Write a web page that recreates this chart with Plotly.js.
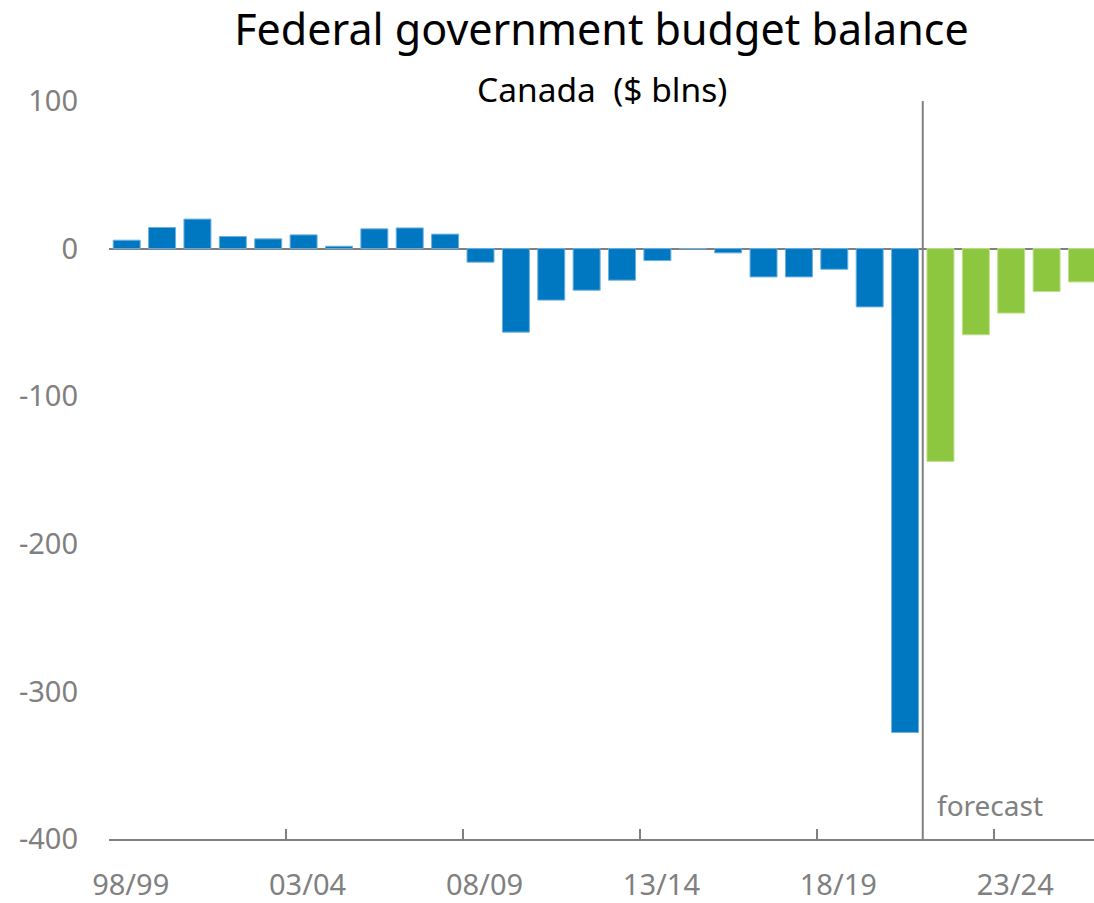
<!DOCTYPE html>
<html>
<head>
<meta charset="utf-8">
<script src="https://cdn.plot.ly/plotly-3.0.1.min.js"></script>
<style>
  html, body { margin: 0; padding: 0; background: #ffffff; }
  #chart { width: 1094px; height: 903px; }
</style>
</head>
<body>
<div id="chart"></div>
<script>
// Fiscal years (actual)
const actualYears = ["98/99","99/00","00/01","01/02","02/03","03/04","04/05","05/06","06/07","07/08",
  "08/09","09/10","10/11","11/12","12/13","13/14","14/15","15/16","16/17","17/18","18/19","19/20","20/21"];
// Budget balance, $ blns (actual)
const actualValues = [5.7, 14.3, 20.0, 8.2, 6.6, 9.3, 1.6, 13.4, 14.0, 9.8,
  -9.2, -56.6, -34.9, -28.2, -21.4, -8.1, 0, -2.9, -19.2, -19.2, -14.0, -39.5, -327.8];
// Fiscal years (forecast)
const forecastYears = ["21/22","22/23","23/24","24/25","25/26"];
// Budget balance, $ blns (forecast)
const forecastValues = [-144.2, -58.4, -43.7, -29.1, -22.6];

const allYears = actualYears.concat(forecastYears);
const yTickVals = [100, 0, -100, -200, -300, -400];
const yTickText = ["100", "0", "-100", "-200", "-300", "-400"];

const FONT = "'Noto Sans', 'Open Sans', 'Liberation Sans', sans-serif";
const GREY = "#808080";

const traces = [
  {
    type: "bar",
    name: "Actual",
    x: actualYears,
    y: actualValues,
    marker: { color: "#0077c1", line: { color: "#6fb0e0", width: 1 } },
    hoverinfo: "x+y"
  },
  {
    type: "bar",
    name: "Forecast",
    x: forecastYears,
    y: forecastValues,
    marker: { color: "#8dc63f", line: { color: "#bfe08f", width: 1 } },
    hoverinfo: "x+y"
  }
];

const forecastStart = allYears.indexOf(forecastYears[0]) - 0.5;

const layout = {
  width: 1094,
  height: 903,
  margin: { l: 109, r: 0, t: 101, b: 64 },
  paper_bgcolor: "#ffffff",
  plot_bgcolor: "#ffffff",
  showlegend: false,
  barmode: "overlay",
  bargap: 0.237,
  font: { family: FONT, color: GREY },
  title: {
    text: "Federal government budget balance",
    font: { family: FONT, size: 43, color: "#000000" },
    x: 0.5,
    xref: "paper",
    xanchor: "center",
    y: 1 - 15 / 903,
    yref: "container",
    yanchor: "top"
  },
  xaxis: {
    type: "category",
    categoryorder: "array",
    categoryarray: allYears,
    range: [-0.5, allYears.length - 0.66],
    tickmode: "linear",
    tick0: 0,
    dtick: 5,
    tickson: "boundaries",
    tickangle: 0,
    ticks: "inside",
    ticklen: 10,
    tickwidth: 2,
    tickcolor: GREY,
    showline: true,
    linecolor: GREY,
    linewidth: 2,
    showgrid: false,
    zeroline: false,
    ticklabelstandoff: 19,
    ticklabelshift: 4,
    tickfont: { family: FONT, size: 29, color: GREY },
    fixedrange: true
  },
  yaxis: {
    range: [-400, 100],
    tickmode: "array",
    tickvals: yTickVals,
    ticktext: yTickText,
    showgrid: false,
    showline: false,
    zeroline: true,
    zerolinecolor: GREY,
    zerolinewidth: 2,
    ticks: "",
    ticklabelstandoff: 30,
    tickfont: { family: FONT, size: 29, color: GREY },
    fixedrange: true
  },
  shapes: [
    {
      type: "line",
      xref: "x",
      yref: "paper",
      x0: forecastStart,
      x1: forecastStart,
      y0: 0,
      y1: 1,
      line: { color: GREY, width: 2 },
      layer: "above"
    }
  ],
  annotations: [
    {
      text: "Canada \u00a0($ blns)",
      xref: "paper",
      yref: "paper",
      x: 0.5,
      y: 1 + (101 - 89) / 738,
      xanchor: "center",
      yanchor: "middle",
      showarrow: false,
      font: { family: FONT, size: 33.5, color: "#000000" }
    },
    {
      text: "forecast",
      xref: "x",
      yref: "y",
      x: forecastStart,
      y: -377,
      xanchor: "left",
      yanchor: "middle",
      xshift: 12,
      showarrow: false,
      font: { family: FONT, size: 28, color: GREY }
    }
  ]
};

Plotly.newPlot("chart", traces, layout, { displayModeBar: false, staticPlot: true });
</script>
</body>
</html>
